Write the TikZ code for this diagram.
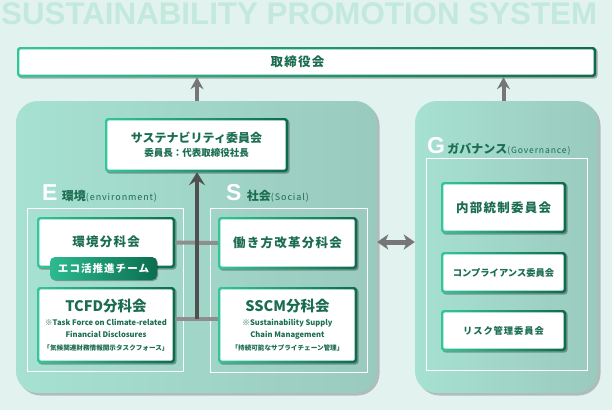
\documentclass[tikz,border=0pt]{standalone}
\usepackage{fontspec}
\usetikzlibrary{shadows,arrows.meta,calc}
\newfontfamily\jp{Noto Sans CJK JP}
\newfontfamily\jpsp{Noto Sans CJK JP}[LetterSpace=10]
\newfontfamily\lib{Liberation Sans}
\definecolor{bgc}{HTML}{E2F2EE}
\definecolor{titlec}{HTML}{C3E9DD}
\definecolor{grpL}{HTML}{A6E1D1}
\definecolor{grpM}{HTML}{B0DFD3}
\definecolor{grpR}{HTML}{9ACABE}
\definecolor{bordL}{HTML}{34C699}
\definecolor{bordR}{HTML}{0B6C4C}
\definecolor{txt}{HTML}{1B6D50}
\definecolor{badgeL}{HTML}{2DBA90}
\definecolor{badgeR}{HTML}{0B6E4E}
\definecolor{arrdark}{HTML}{505050}
\definecolor{arrgray}{HTML}{767676}
\definecolor{bargray}{HTML}{8E8E8E}
\newcommand\fsz[2]{\fontsize{#1}{#2}\selectfont}
\begin{document}
\begin{tikzpicture}[x=1pt,y=-1pt,
  gbox/.style={rounded corners=3pt, inner sep=0pt, align=center, text=txt,
    drop shadow={shadow xshift=1.5pt, shadow yshift=-1.5pt, opacity=0.3, fill=black},
    path picture={
      \shade[left color=bordL, right color=bordR]
        (path picture bounding box.south west) rectangle (path picture bounding box.north east);
      \fill[white, rounded corners=2pt]
        ([shift={(2.3pt,2.3pt)}]path picture bounding box.south west) rectangle
        ([shift={(-2.3pt,-2.3pt)}]path picture bounding box.north east);
    }},
  grp/.style={rounded corners=22pt, left color=grpL, middle color=grpM, right color=grpR,
    drop shadow={shadow xshift=2.5pt, shadow yshift=-2.5pt, opacity=0.22, fill=black}},
  frm/.style={draw=white, line width=1pt, inner sep=0pt},
  badge/.style={rounded corners=5pt, inner sep=0pt, left color=badgeL, right color=badgeR,
    text=white, drop shadow={shadow xshift=1pt, shadow yshift=-1pt, opacity=0.3, fill=black}},
  biglet/.style={anchor=base west, inner sep=0pt, text=white, font=\lib\bfseries\fontsize{23}{23}\selectfont},
  lbl/.style={anchor=base west, inner sep=0pt, text=txt},
  uparr/.style={line width=4pt, draw=arrgray, -{Stealth[length=12pt,width=13pt,inset=4pt]}},
  tree/.style={line width=4pt, draw=arrdark, -{Stealth[length=13pt,width=16pt,inset=5pt]}},
  bar/.style={line width=4pt, draw=bargray},
  dbl/.style={line width=5pt, draw=arrgray, {Stealth[length=11pt,width=15pt,inset=3pt]}-{Stealth[length=11pt,width=15pt,inset=3pt]}}
]
\useasboundingbox (0,0) rectangle (612,410);
\fill[bgc] (0,0) rectangle (612,410);

% title
\node[anchor=base west, inner sep=0pt, text=titlec, font=\lib\bfseries\fontsize{31.3}{32}\selectfont] (title) at (1,24) {SUSTAINABILITY PROMOTION SYSTEM};

% board
\node[gbox, minimum width=579pt, minimum height=30pt, font=\jpsp\bfseries\fontsize{12.5}{14}\selectfont] (board) at (306.5,62) {\hspace*{-18pt}取締役会};

% groups
\node[grp, minimum width=361pt, minimum height=292pt] (lg) at (196.5,247) {};
\node[grp, minimum width=183pt, minimum height=292pt] (rg) at (506.5,247) {};

% frames
\node[frm, minimum width=156pt, minimum height=163pt] (ef) at (105,289.5) {};
\node[frm, minimum width=157pt, minimum height=164pt] (sf) at (288.5,290) {};
\node[frm, minimum width=161pt, minimum height=212pt] (gf) at (506.5,264) {};

% labels
\node[biglet] (eL) at (42,200) {E};
\node[lbl, xshift=4pt] (eT) at (eL.base east) {{\jp\bfseries\fsz{12}{12}環境}{\jpsp\fsz{9}{9}(environment)}};
\node[biglet] (sL) at (226,200) {S};
\node[lbl, xshift=5pt] (sT) at (sL.base east) {{\jp\bfseries\fsz{12}{12}社会}{\jpsp\fsz{9}{9}(Social)}};
\node[biglet] (gL) at (427,153) {G};
\node[lbl, xshift=2pt] (gT) at (gL.base east) {{\jp\bfseries\fsz{12}{12}ガバナンス}{\jpsp\fsz{8.6}{9}(Governance)}};

% sustainability committee
\node[gbox, minimum width=183pt, minimum height=54pt, font=\jp\bfseries] (sus) at (196.5,145)
  {\fsz{12}{14}サステナビリティ委員会\\[2pt]\fsz{9.5}{11}委員長：代表取締役社長};

% E boxes
\node[gbox, minimum width=138pt, minimum height=51pt, font=\jpsp\bfseries\fontsize{12.5}{14}\selectfont] (env) at (106,242.5)
  {\raisebox{3pt}{環境分科会}};
\node[badge, minimum width=107pt, minimum height=23pt, font=\jpsp\bfseries\fontsize{10.5}{12}\selectfont] (eco) at (103.5,268.5) {エコ活推進チーム};
\node[gbox, minimum width=138pt, minimum height=76pt, font=\jp\bfseries] (tcfd) at (106,325)
  {\fsz{14.5}{16}TCFD分科会\\[2pt]\fsz{7.6}{9.5}※Task Force on Climate-related\\\fsz{7.6}{9.5}Financial Disclosures\\[1pt]\fsz{6.6}{8}「気候関連財務情報開示タスクフォース」};

% S boxes
\node[gbox, minimum width=139pt, minimum height=52pt, font=\jpsp\bfseries\fontsize{12.5}{14}\selectfont] (work) at (287.5,243)
  {働き方改革分科会};
\node[gbox, minimum width=139pt, minimum height=76pt, font=\jp\bfseries] (sscm) at (287.5,325)
  {\fsz{14.5}{16}SSCM分科会\\[2pt]\fsz{7.6}{9.5}※Sustainability Supply\\\fsz{7.6}{9.5}Chain Management\\[1pt]\fsz{6.6}{8}「持続可能なサプライチェーン管理」};

% G boxes
\node[gbox, minimum width=125pt, minimum height=51pt, font=\jpsp\bfseries\fontsize{12.5}{14}\selectfont] (ic) at (503.5,207.5)
  {内部統制委員会};
\node[gbox, minimum width=125pt, minimum height=41pt, font=\jp\bfseries\fontsize{9.3}{11}\selectfont] (comp) at (503.5,272.5)
  {コンプライアンス委員会};
\node[gbox, minimum width=125pt, minimum height=41pt, font=\jpsp\bfseries\fontsize{9.3}{11}\selectfont] (risk) at (503.5,330.5)
  {リスク管理委員会};

% connectors
\coordinate (j2) at (197,319);
\draw[bar] (env.east) -- (work.west);
\draw[bar] (tcfd.east |- j2) -- (sscm.west |- j2);
\draw[tree] (j2) -- (sus.south -| j2);
\draw[uparr] (lg.north -| j2) -- (board.south -| j2);
\coordinate (ga) at (503.5,0);
\draw[uparr] (rg.north -| ga) -- (board.south -| ga);
\coordinate (ya) at (0,242);
\draw[dbl] (lg.east |- ya) -- (rg.west |- ya);
\end{tikzpicture}
\end{document}
